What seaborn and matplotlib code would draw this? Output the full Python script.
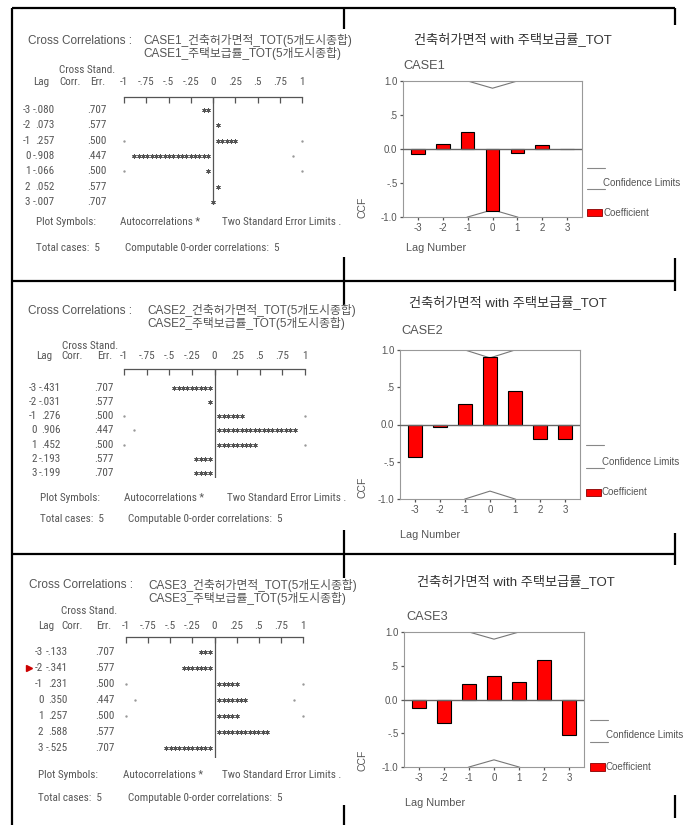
import os
import numpy as np
import pandas as pd
import matplotlib
matplotlib.use("Agg")
import matplotlib.pyplot as plt
import matplotlib.transforms as mtransforms
from matplotlib import font_manager as fm
from matplotlib.textpath import TextPath
from matplotlib.patches import Rectangle
import seaborn as sns

# ---------------- data ----------------
lags = [-3, -2, -1, 0, 1, 2, 3]
ccf_case1 = [-0.080, 0.073, 0.257, -0.908, -0.066, 0.052, -0.007]
ccf_case2 = [-0.431, -0.031, 0.276, 0.906, 0.452, -0.193, -0.199]
ccf_case3 = [-0.133, -0.341, 0.231, 0.350, 0.257, 0.588, -0.525]
std_err = [0.707, 0.577, 0.500, 0.447, 0.500, 0.577, 0.707]
case_names = ["CASE1", "CASE2", "CASE3"]
var1_label = "건축허가면적_TOT(5개도시종합)"
var2_label = "주택보급률_TOT(5개도시종합)"
chart_title = "건축허가면적 with 주택보급률_TOT"
ascii_ticks = [-1, -0.75, -0.5, -0.25, 0, 0.25, 0.5, 0.75, 1]
ascii_tick_labels = ["-1", "-.75", "-.5", "-.25", "0", ".25", ".5", ".75", "1"]
ccf_ticks = [-1, -0.5, 0, 0.5, 1]
ccf_tick_labels = ["-1.0", "-.5", "0.0", ".5", "1.0"]
total_cases = 5
computable = 5

ccf_all = [ccf_case1, ccf_case2, ccf_case3]

# ---------------- style ----------------
sns.set_style("white")
plt.rcParams["font.family"] = ["Liberation Sans", "Noto Sans CJK KR", "DejaVu Sans"]
SANS = ["Liberation Sans", "Noto Sans CJK KR", "DejaVu Sans"]
TXT = "#555555"


def pick_table_font():
    """Prefer a narrow/condensed regular face if one is installed."""
    prefs = ["LiberationSansNarrow-Regular", "NotoSans-Condensed.", "NotoSans-CondensedRegular",
             "OpenSans_Condensed-Regular", "OpenSansCondensed", "RobotoCondensed-Regular",
             "Roboto_Condensed-Regular", "DejaVuSansCondensed."]
    files = [f.fname for f in fm.fontManager.ttflist]
    for p in prefs:
        for fn in files:
            if p in os.path.basename(fn):
                return fm.FontProperties(fname=fn)
    return fm.FontProperties(family="Liberation Sans")


TFP = pick_table_font()


def width_px(s, size):
    fp = TFP.copy()
    fp.set_size(size)
    ext = TextPath((0, 0), s, size=size, prop=fp).get_extents()
    return ext.width * 100 / 72


# size the table font so that "Plot Symbols:" is about 59 px wide, as in the reference
TSIZE = float(np.clip(10 * 59 / width_px("Plot Symbols:", 10), 6.0, 9.0))


def tf(size=None):
    fp = TFP.copy()
    fp.set_size(size or TSIZE)
    return fp


W, H = 693, 825
fig = plt.figure(figsize=(W / 100, H / 100), dpi=100)


def rect(x0, y0, x1, y1):
    return [x0 / W, 1 - y1 / H, (x1 - x0) / W, (y1 - y0) / H]


ov = fig.add_axes([0, 0, 1, 1])
ov.set_xlim(0, W)
ov.set_ylim(H, 0)
ov.axis("off")

# frame lines
border_segments = [
    (12, 8, 675, 8), (12, 8, 12, 825),
    (12, 281, 675, 281), (12, 554, 675, 554),
    (344, 8, 344, 29), (344, 257, 344, 305), (344, 530, 344, 578), (344, 805, 344, 825),
    (675, 8, 675, 25), (675, 258, 675, 291), (675, 533, 675, 565), (675, 795, 675, 818),
]
for x0, y0, x1, y1 in border_segments:
    ov.plot([x0, x1], [y0, y1], color="black", lw=1.6, solid_capstyle="butt")

layouts = [
    dict(title_x=28, title_y=40.5, case_x=143, line2_y=53,
         hdr1_y=70, hdr2_y=82, cross_x=59, lag_x=33, corr_x=59, err_x=90,
         col_lag=36, col_corr=55, col_se=107,
         ascii_rect=(124, 97, 302, 205), row_first=110, row_last=202,
         foot1_y=222, foot2_y=248, foot_x=(36, 120, 222, 125),
         bar_rect=(403, 81, 582, 217), ctitle=(513, 40), case_lbl=(403, 66),
         ccf_lbl=(363, 207), lagnum=(406, 248),
         leg_x=587, leg_lines=(168, 189), leg_t1=183, leg_box=(209, 216), leg_t2=213),
    dict(title_x=28, title_y=310.5, case_x=147, line2_y=323,
         hdr1_y=346, hdr2_y=356, cross_x=62, lag_x=36, corr_x=61, err_x=97,
         col_lag=42, col_corr=61, col_se=114,
         ascii_rect=(124, 369, 305, 478), row_first=388, row_last=473,
         foot1_y=498, foot2_y=519, foot_x=(40, 124, 227, 128),
         bar_rect=(400, 350, 580, 499), ctitle=(508, 303), case_lbl=(401, 331),
         ccf_lbl=(363, 487), lagnum=(400, 535),
         leg_x=586, leg_lines=(445, 468), leg_t1=462, leg_box=(489, 496), leg_t2=492),
    dict(title_x=29, title_y=585.5, case_x=148, line2_y=598,
         hdr1_y=611, hdr2_y=626, cross_x=61, lag_x=38, corr_x=61, err_x=96,
         col_lag=47, col_corr=68, col_se=115,
         ascii_rect=(126, 637, 303, 758), row_first=652, row_last=748,
         foot1_y=775, foot2_y=798, foot_x=(38, 123, 222, 128),
         bar_rect=(404, 632, 584, 767), ctitle=(516, 582), case_lbl=(406, 617),
         ccf_lbl=(363, 760), lagnum=(405, 803),
         leg_x=590, leg_lines=(720, 742), leg_t1=735, leg_box=(763, 771), leg_t2=767),
]


def fmt(v):
    s = f"{v:.3f}"
    return s.replace("0.", ".", 1)


for idx, (case, vals, L) in enumerate(zip(case_names, ccf_all, layouts)):
    # ---------- left text panel ----------
    hk = dict(family=SANS, fontsize=8.5, color=TXT, va="center", ha="left")
    ov.text(L["title_x"], L["title_y"], "Cross Correlations :", **hk)
    ov.text(L["case_x"], L["title_y"], f"{case}_{var1_label}", **hk)
    ov.text(L["case_x"], L["line2_y"], f"{case}_{var2_label}", **hk)
    kw = dict(fontproperties=tf(), color=TXT, va="center", ha="left")
    ov.text(L["cross_x"], L["hdr1_y"], "Cross Stand.", **kw)
    ov.text(L["lag_x"], L["hdr2_y"], "Lag", **kw)
    ov.text(L["corr_x"], L["hdr2_y"], "Corr.", **kw)
    ov.text(L["err_x"], L["hdr2_y"], "Err.", **kw)
    fx = L["foot_x"]
    ov.text(fx[0], L["foot1_y"], "Plot Symbols:", **kw)
    ov.text(fx[1], L["foot1_y"], "Autocorrelations *", **kw)
    ov.text(fx[2], L["foot1_y"], "Two Standard Error Limits .", **kw)
    ov.text(fx[0], L["foot2_y"], f"Total cases:  {total_cases}", **kw)
    ov.text(fx[3], L["foot2_y"], f"Computable 0-order correlations:  {computable}", **kw)

    ax_a = fig.add_axes(rect(*L["ascii_rect"]))
    ax_a.set_facecolor("none")
    x0, y0, x1, y1 = L["ascii_rect"]
    sp = (L["row_last"] - L["row_first"]) / 6.0
    lag_top = (y0 - L["row_first"]) / sp - 3
    lag_bot = (y1 - L["row_first"]) / sp - 3
    ax_a.set_xlim(-1, 1)
    ax_a.set_ylim(lag_bot, lag_top)
    for s in ["left", "right", "bottom"]:
        ax_a.spines[s].set_visible(False)
    ax_a.spines["top"].set_color("#555555")
    ax_a.spines["top"].set_linewidth(0.9)
    ax_a.set_yticks([])
    ax_a.set_xticks(ascii_ticks)
    ax_a.set_xticklabels(ascii_tick_labels, fontproperties=tf(), color=TXT)
    pad_pt = max(1.0, (y0 - L["hdr2_y"] - 5) * 0.72)
    ax_a.tick_params(axis="x", top=True, bottom=False, labeltop=True, labelbottom=False,
                     direction="in", length=4, width=0.9, color="#555555", pad=pad_pt)
    ax_a.axvline(0, color="#555555", lw=0.9)

    # keep the lag column clear of the correlation column
    corr_strs = [fmt(v) for v in vals]
    corr_w = max(width_px(s, TSIZE) for s in corr_strs)
    lag_right = min(L["col_lag"], L["col_corr"] - corr_w - 3)

    blend = mtransforms.blended_transform_factory(ov.transData, ax_a.transData)
    rk = dict(transform=blend, fontproperties=tf(), color=TXT, ha="right", va="center",
              clip_on=False)
    for lag, v, cs, se in zip(lags, vals, corr_strs, std_err):
        ax_a.text(lag_right, lag, str(lag), **rk)
        ax_a.text(L["col_corr"], lag, cs, **rk)
        ax_a.text(L["col_se"], lag, fmt(se), **rk)
        # two standard error limit dots
        lim = 2 * se
        if lim <= 1.0001:
            ax_a.scatter([-lim, lim], [lag, lag], s=3, color="#999999", marker="o",
                         linewidths=0, clip_on=False, zorder=2)
        # asterisks
        n = int(np.floor(abs(v) * 20 + 0.5))
        if n == 0:
            xs = np.array([0.0])
        else:
            xs = np.sign(v) * (0.055 + 0.0488 * np.arange(n))
        ax_a.scatter(xs, np.full(len(xs), lag), marker=(6, 2, 0), s=8, color="#555555",
                     linewidths=0.6, clip_on=False, zorder=3)
    if case == "CASE3":
        ax_a.plot([min(29, lag_right - 12)], [-2], transform=blend, marker=">",
                  color="#cc0000", markersize=4, clip_on=False)

    # ---------- right chart ----------
    ov.text(L["ctitle"][0], L["ctitle"][1], chart_title, family=SANS, fontsize=9.5,
            color="#333333", ha="center", va="center")
    ov.text(L["case_lbl"][0], L["case_lbl"][1], case, family=SANS, fontsize=9.2,
            color="#555555", ha="left", va="center")
    ov.text(L["ccf_lbl"][0], L["ccf_lbl"][1], "CCF", family=SANS, fontsize=7.5,
            color="#555555", ha="center", va="center", rotation=90)
    ov.text(L["lagnum"][0], L["lagnum"][1], "Lag Number", family=SANS, fontsize=7.8,
            color="#555555", ha="left", va="center")

    ax = fig.add_axes(rect(*L["bar_rect"]))
    df = pd.DataFrame({"lag": lags, "ccf": vals, "se": std_err})
    sns.barplot(data=df, x="lag", y="ccf", native_scale=True, width=0.55, color="red",
                saturation=1, edgecolor="black", linewidth=0.8, errorbar=None, ax=ax,
                zorder=3)
    df["upper"] = 2 * df["se"]
    df["lower"] = -2 * df["se"]
    sns.lineplot(data=df, x="lag", y="upper", color="#777777", lw=0.8, ax=ax, zorder=2)
    sns.lineplot(data=df, x="lag", y="lower", color="#777777", lw=0.8, ax=ax, zorder=2)
    ax.axhline(0, color="#666666", lw=1.0, zorder=4)
    ax.set_xlim(-3.6, 3.6)
    ax.set_ylim(-1, 1)
    ax.set_xticks(lags)
    ax.set_xticklabels([str(l) for l in lags])
    ax.set_yticks(ccf_ticks)
    ax.set_yticklabels(ccf_tick_labels)
    ax.set_xlabel("")
    ax.set_ylabel("")
    ax.tick_params(axis="both", which="both", direction="out", length=2, width=0.9,
                   color="#555555", labelsize=7, labelcolor="#555555", pad=2,
                   left=True, bottom=True)
    for s in ax.spines.values():
        s.set_color("#999999")
        s.set_linewidth(0.8)

    # legend (SPSS style, to the right)
    lx = L["leg_x"]
    for ly in L["leg_lines"]:
        ov.plot([lx, lx + 18], [ly, ly], color="#888888", lw=0.8)
    ov.text(lx + 16, L["leg_t1"], "Confidence Limits", family=SANS, fontsize=7,
            color="#555555", ha="left", va="center")
    b0, b1 = L["leg_box"]
    ov.add_patch(Rectangle((lx, b0), 15, b1 - b0, facecolor="red", edgecolor="#880000", lw=0.6))
    ov.text(lx + 16, L["leg_t2"], "Coefficient", family=SANS, fontsize=7,
            color="#555555", ha="left", va="center")

fig.savefig("out.png", dpi=100)
